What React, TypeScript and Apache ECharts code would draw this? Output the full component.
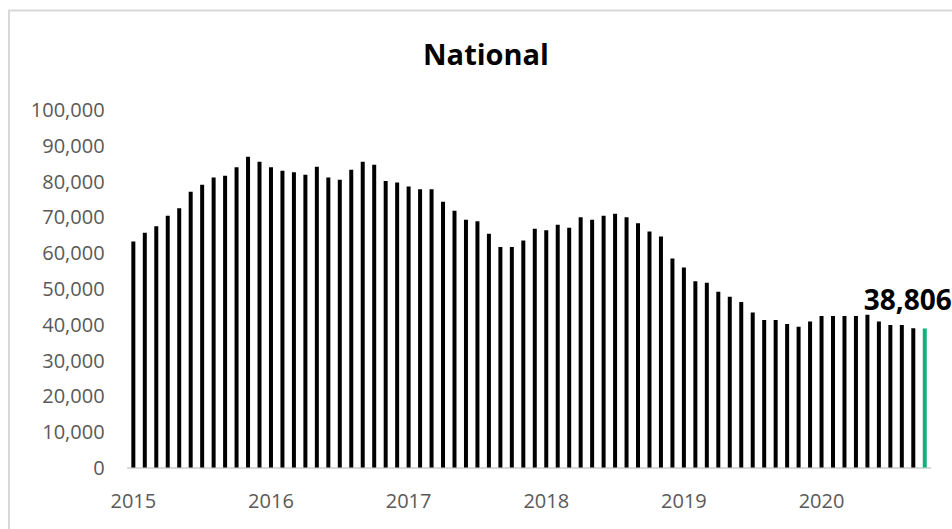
import React, { useEffect, useRef } from "react";
import * as echarts from "echarts";

const years = ["2015", "2016", "2017", "2018", "2019", "2020"];
const months = ["01", "02", "03", "04", "05", "06", "07", "08", "09", "10", "11", "12"];
const categories: string[] = [];
years.forEach((y) => months.forEach((m) => categories.push(`${y}-${m}`)));
const monthsShown = categories.slice(0, 70); // Jan 2015 – Oct 2020

const values2015 = [63100, 65600, 67400, 70300, 72400, 77000, 79000, 81000, 81500, 83900, 86800, 85400];
const values2016 = [83900, 82900, 82500, 81800, 84000, 81000, 80400, 83200, 85400, 84600, 80000, 79600];
const values2017 = [78500, 77700, 77700, 74200, 71700, 69200, 68800, 65300, 61600, 61600, 63400, 66700];
const values2018 = [66300, 67800, 67000, 69900, 69200, 70300, 70900, 69900, 68200, 65900, 64500, 58400];
const values2019 = [55900, 52000, 51600, 49100, 47700, 46200, 43300, 41200, 41200, 40100, 39300, 40800];
const values2020 = [42300, 42300, 42300, 42300, 42700, 40800, 39800, 39800, 38900, 38806];

const allValues = [...values2015, ...values2016, ...values2017, ...values2018, ...values2019, ...values2020];

const yTicks = { min: 0, max: 100000, interval: 10000 };

export default function App() {
  const ref = useRef<HTMLDivElement>(null);
  useEffect(() => {
    if (!ref.current) return;
    const chart = echarts.init(ref.current, undefined, { renderer: "svg" });
    const last = allValues.length - 1;
    const data = allValues.map((v, i) =>
      i === last
        ? {
            value: v,
            itemStyle: { color: "#12b07a" },
            label: {
              show: true,
              position: "top",
              offset: [-17, -11],
              formatter: (p: any) => Number(p.value).toLocaleString("en-US"),
              fontFamily: "Open Sans",
              fontWeight: "bold",
              fontSize: 28,
              color: "#000",
            },
          }
        : { value: v }
    );
    chart.setOption({
      animation: false,
      backgroundColor: "#fff",
      title: {
        text: "National",
        left: 481,
        textAlign: "center",
        top: 34,
        textStyle: { fontFamily: "Open Sans", fontWeight: "bold", fontSize: 29, color: "#000" },
      },
      graphic: [
        {
          type: "rect",
          shape: { x: 9, y: 10.5, width: 1000, height: 1000 },
          style: { fill: "none", stroke: "#d9d9d9", lineWidth: 2 },
          silent: true,
        },
      ],
      grid: { left: 127.6, right: 21.5, top: 109.5, bottom: 61.5, containLabel: false },
      xAxis: {
        type: "category",
        data: monthsShown,
        boundaryGap: true,
        axisLine: { show: true, lineStyle: { color: "#d9d9d9", width: 2 } },
        axisTick: { show: false },
        axisLabel: {
          interval: (i: number) => i % 12 === 0,
          formatter: (v: string) => v.slice(0, 4),
          color: "#595959",
          fontFamily: "Open Sans",
          fontSize: 20,
          margin: 23,
        },
      },
      yAxis: {
        type: "value",
        min: yTicks.min,
        max: yTicks.max,
        interval: yTicks.interval,
        splitLine: { show: false },
        axisLine: { show: false },
        axisTick: { show: false },
        axisLabel: {
          formatter: (v: number) => v.toLocaleString("en-US"),
          color: "#595959",
          fontFamily: "Open Sans",
          fontSize: 20,
          margin: 23,
        },
      },
      series: [
        {
          type: "bar",
          data,
          barWidth: 4,
          itemStyle: { color: "#000" },
        },
      ],
    });
    return () => chart.dispose();
  }, []);
  return (
    <div
      ref={ref}
      style={{ position: "fixed", left: 0, top: 0, width: 952, height: 529 }}
    />
  );
}
